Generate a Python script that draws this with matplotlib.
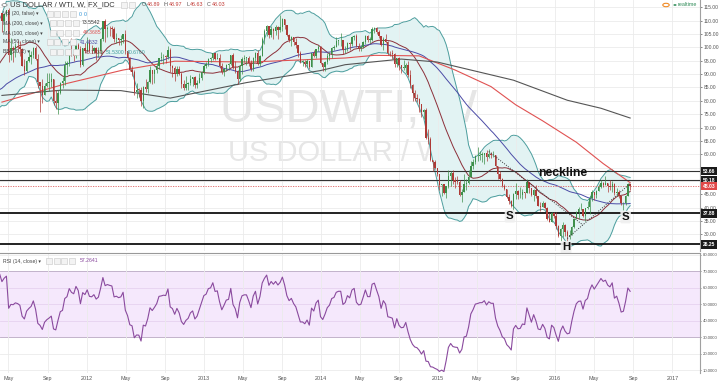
import matplotlib
matplotlib.use('Agg')
import matplotlib.pyplot as plt
import matplotlib.dates as mdates
import matplotlib.transforms as mtransforms
from matplotlib.patches import Rectangle, Circle
import numpy as np
import pandas as pd

plt.rcParams['font.family'] = ['Liberation Sans', 'DejaVu Sans']

# ---- data -------------------------------------------------------------
# weekly closes before the visible window, only used to warm up BB / MA50 / RSI
pre_start = '2010-04-26'
pre_close = [86.2, 75.1, 71.6, 70.0, 74.0, 71.5, 73.8, 77.2, 78.9, 72.1,
             76.1, 76.0, 79.0, 79.0, 80.7, 75.4, 73.5, 75.2, 74.6, 76.5,
             73.7, 76.5, 81.6, 82.7, 81.3, 81.7, 81.4, 86.9, 84.9, 81.5,
             83.8, 89.2, 87.8, 88.0, 91.5, 91.4, 88.0, 91.5, 89.1, 89.3,
             89.0, 85.6, 86.2, 98.0, 104.4, 101.2, 101.1, 105.4, 107.9, 112.8]

# visible weekly candles (week starting Monday), open = previous close
start = '2011-04-11'
close = [
    109.7, 112.3, 113.9,
    97.2, 99.7, 99.5, 100.6, 100.2, 99.3, 93.0, 91.2, 94.9,
    96.2, 97.2, 99.9, 95.7, 86.9, 85.4, 82.3, 85.4, 86.5,
    87.2, 88.0, 79.9, 79.2, 83.0, 86.8, 87.4, 93.3, 94.3,
    99.0, 97.4, 96.8, 101.0, 99.4, 93.5, 99.7, 98.8,
    # 2012
    101.6, 98.7, 98.5, 99.6, 97.8, 98.7, 103.2, 109.8, 106.7,
    107.4, 107.1, 106.9, 103.0, 103.3, 102.8, 103.1, 104.9, 98.5,
    96.1, 91.5, 90.9, 83.2, 84.1, 84.0, 79.8, 85.0,
    84.5, 87.1, 91.4, 90.1, 91.4, 92.9, 96.0, 96.2, 96.5,
    96.4, 99.0, 92.9, 92.2, 89.9, 91.9, 90.1, 86.3, 84.9,
    86.1, 86.7, 88.3, 88.9, 85.9, 86.7, 88.7, 90.8, 93.1,
    # 2013
    93.6, 95.6, 95.9, 97.8, 95.7, 95.9, 93.1, 90.7,
    92.0, 93.5, 93.7, 97.2, 92.7, 91.3, 88.0, 93.0, 95.6,
    96.0, 96.0, 94.2, 92.0, 96.0, 97.9, 93.7, 96.6,
    103.2, 106.0, 108.1, 104.7, 106.9, 106.0, 107.5, 106.4, 107.7,
    110.5, 108.2, 104.7, 102.9, 103.8, 102.0, 100.8, 97.9, 94.6,
    94.6, 93.8, 94.8, 92.7, 97.7, 96.6, 99.3, 100.3, 94.0,
    # 2014
    92.7, 94.4, 96.6, 97.5, 99.9, 100.3, 102.2, 102.6,
    102.6, 98.9, 99.5, 101.7, 101.1, 103.7, 104.3, 100.6, 99.8,
    100.0, 102.0, 104.4, 102.7, 102.7, 106.9, 107.3, 105.7, 104.1,
    100.8, 103.1, 102.1, 97.9, 97.7, 97.4, 93.7, 96.0,
    93.3, 92.3, 92.4, 93.5, 89.7, 85.8, 82.8, 81.0, 80.5,
    78.7, 75.8, 76.5, 66.2, 65.8, 57.8, 57.1, 54.7, 52.7,
    # 2015
    48.4, 48.7, 45.6, 48.2, 51.7, 52.8, 50.3, 49.8,
    49.6, 44.8, 45.7, 48.9, 49.1, 51.6, 55.7, 57.2, 59.2,
    59.4, 59.7, 59.7, 60.3, 59.1, 60.0, 59.6, 59.6, 55.5,
    52.7, 50.9, 48.1, 47.1, 43.9, 42.5, 40.5, 45.2, 46.1,
    44.6, 44.7, 45.7, 45.5, 49.6, 47.3, 44.6, 46.6,
    44.3, 40.7, 40.4, 41.7, 40.0, 35.6, 34.7, 38.1, 37.0,
    # 2016
    33.2, 29.4, 32.2, 33.6, 30.9, 29.4, 29.6, 32.8, 35.9,
    38.5, 39.4, 39.5, 36.8, 39.7, 40.4, 43.7, 45.9,
    44.7, 46.2, 47.8, 49.3, 48.6, 49.1, 48.0, 47.6, 49.0,
    45.4, 46.0, 44.2, 41.6, 41.8, 44.5, 48.89, 48.03]

high = [
    112.8, 112.6, 114.0,
    114.8, 103.4, 100.4, 101.6, 102.6, 102.4, 99.8, 95.7, 95.4,
    99.0, 98.7, 100.2, 100.6, 97.4, 87.0, 88.3, 86.8, 90.5,
    90.5, 90.5, 88.3, 84.0, 84.0, 87.0, 89.0, 94.7, 94.7,
    99.5, 103.4, 98.5, 101.3, 101.5, 100.6, 99.8, 101.8,
    103.7, 103.0, 101.0, 100.3, 100.2, 100.0, 103.5, 109.9, 110.5,
    108.0, 107.9, 108.0, 107.5, 105.5, 103.5, 104.5, 105.0, 106.4,
    98.5, 96.5, 92.9, 91.4, 86.5, 84.8, 85.0, 85.4,
    88.0, 87.5, 92.9, 91.5, 91.9, 94.3, 96.0, 98.3, 97.4,
    97.2, 100.4, 99.9, 93.5, 92.9, 93.0, 93.0, 90.6, 87.6,
    89.1, 87.0, 89.6, 89.0, 89.3, 87.9, 90.5, 91.0, 93.9,
    94.4, 96.0, 96.4, 98.0, 97.8, 98.0, 97.6, 94.0,
    92.4, 93.6, 94.0, 97.3, 97.8, 95.0, 91.5, 93.4, 96.2,
    97.1, 96.3, 96.7, 95.1, 96.4, 98.3, 99.0, 97.0,
    103.9, 107.0, 108.5, 108.1, 108.0, 107.3, 108.5, 107.8, 112.2,
    110.9, 110.5, 108.5, 105.0, 104.4, 104.0, 103.3, 101.0, 98.8,
    95.3, 95.3, 95.5, 95.0, 97.9, 99.0, 99.3, 100.8, 100.4,
    94.1, 94.9, 97.8, 98.3, 100.2, 101.0, 103.7, 102.9,
    105.2, 102.7, 100.5, 101.9, 101.9, 104.2, 104.5, 104.9, 101.5,
    101.0, 102.4, 104.6, 104.5, 104.0, 107.7, 107.7, 107.5, 106.5,
    104.2, 104.0, 105.0, 102.4, 98.8, 98.9, 97.8, 96.1,
    96.2, 93.5, 95.2, 94.0, 94.9, 91.5, 86.2, 84.0, 82.6,
    80.9, 78.9, 77.0, 77.2, 69.5, 66.6, 58.0, 57.8, 55.0,
    52.7, 48.9, 49.0, 48.3, 54.2, 53.6, 54.2, 51.3,
    52.0, 50.3, 47.0, 52.5, 50.8, 54.2, 57.4, 58.4, 59.9,
    62.6, 61.1, 60.8, 60.3, 61.5, 61.8, 60.9, 61.3, 59.7,
    55.5, 53.8, 51.2, 49.0, 47.1, 45.3, 43.0, 45.5, 49.3,
    46.7, 47.7, 47.0, 45.8, 50.9, 49.6, 47.3, 47.0,
    48.4, 44.5, 42.0, 42.6, 42.3, 40.1, 37.9, 38.4, 38.3,
    38.4, 33.5, 32.4, 34.8, 34.0, 31.6, 31.5, 33.2, 36.2,
    38.7, 40.2, 41.9, 39.6, 39.9, 42.4, 44.5, 46.8,
    46.0, 46.8, 48.7, 50.2, 49.8, 51.7, 49.2, 50.5, 49.9,
    49.4, 47.5, 46.5, 44.2, 42.2, 44.7, 49.2, 48.97]

low = [
    105.6, 106.2, 111.6,
    94.6, 95.3, 94.6, 96.5, 98.2, 96.8, 92.9, 89.6, 90.6,
    94.5, 93.8, 95.9, 95.4, 84.9, 75.7, 79.2, 82.0, 85.0,
    83.5, 85.0, 78.5, 77.1, 75.0, 82.5, 84.8, 85.8, 90.2,
    93.1, 96.8, 94.7, 96.0, 97.6, 92.5, 93.1, 98.0,
    98.6, 98.2, 97.8, 98.0, 95.4, 96.3, 97.6, 102.5, 102.0,
    104.0, 104.1, 104.0, 102.0, 101.5, 100.7, 101.0, 101.6, 97.5,
    95.2, 91.2, 89.2, 82.3, 81.2, 81.5, 78.2, 77.3,
    83.1, 83.0, 86.8, 86.1, 86.8, 90.5, 92.0, 94.9, 93.9,
    94.0, 95.8, 90.9, 88.9, 87.3, 89.1, 89.6, 84.9, 84.1,
    84.0, 84.1, 85.9, 85.4, 84.9, 84.7, 86.7, 87.6, 90.2,
    92.4, 93.1, 94.5, 95.2, 95.1, 95.6, 92.1, 90.2,
    89.3, 91.3, 91.5, 93.4, 92.0, 90.4, 86.1, 87.5, 90.1,
    94.5, 93.3, 92.9, 91.3, 91.0, 94.8, 93.3, 93.1,
    96.6, 101.2, 104.3, 103.6, 103.8, 103.2, 104.6, 103.0, 105.7,
    106.0, 106.7, 104.3, 101.9, 100.6, 100.8, 99.8, 96.5, 94.0,
    93.0, 92.5, 92.7, 91.8, 92.5, 96.2, 96.1, 98.7, 93.8,
    91.2, 91.0, 93.9, 95.4, 96.1, 99.0, 100.1, 100.8,
    100.6, 97.4, 97.7, 98.6, 98.9, 100.6, 102.7, 100.1, 98.6,
    98.6, 99.7, 101.4, 102.0, 101.8, 102.3, 105.2, 105.1, 103.6,
    100.5, 98.9, 101.5, 97.1, 96.6, 95.6, 92.5, 92.6,
    91.5, 90.4, 91.5, 90.5, 88.8, 84.6, 79.8, 80.0, 79.4,
    75.8, 73.9, 73.3, 65.7, 63.7, 57.3, 53.6, 54.5, 52.0,
    46.8, 44.2, 45.2, 43.6, 47.3, 48.0, 48.8, 47.4,
    48.8, 44.4, 42.0, 45.7, 46.6, 48.8, 51.5, 54.6, 56.2,
    57.6, 58.0, 57.0, 56.5, 57.3, 58.6, 58.6, 59.0, 55.1,
    50.6, 50.1, 47.7, 46.7, 43.5, 41.4, 40.2, 37.88, 43.2,
    43.3, 43.8, 43.4, 43.6, 45.5, 45.6, 44.2, 42.6,
    43.8, 40.5, 38.9, 40.3, 39.6, 35.4, 34.5, 34.5, 36.2,
    32.1, 29.1, 27.6, 29.2, 29.3, 26.25, 28.4, 29.6, 32.4,
    35.6, 35.9, 39.1, 36.4, 35.2, 39.6, 37.6, 42.6,
    43.0, 43.5, 46.2, 47.5, 47.8, 48.5, 45.8, 46.7, 45.8,
    44.9, 44.3, 43.8, 41.0, 39.2, 41.0, 44.4, 46.63]

# MA(100) / MA(200)
ma100_dates = ['2011-04-11', '2011-10-31', '2012-04-23', '2012-10-01', '2013-05-27',
               '2014-03-17', '2014-06-16', '2014-11-03', '2015-02-23', '2015-06-15',
               '2015-08-31', '2015-11-23', '2016-03-07', '2016-05-30', '2016-08-22']
ma100_vals = [79.5, 86.5, 91.5, 94.8, 94.5, 96.0, 97.0, 96.8, 91.5, 85.3,
              78.5, 72.5, 64.5, 56.5, 49.37]
ma200_dates = ['2011-04-11', '2011-10-17', '2012-04-16', '2012-09-17', '2013-05-13',
               '2013-12-30', '2014-03-17', '2014-09-08', '2014-12-29', '2015-08-24',
               '2016-02-08', '2016-05-23', '2016-08-22']
ma200_vals = [82.0, 84.0, 83.8, 81.0, 86.8, 91.3, 93.5, 95.6, 94.5, 87.7,
              80.2, 77.2, 73.55]

# drawn levels and current price
levels = [53.66, 50.18, 37.88, 26.25]
level_width = [0.8, 0.8, 1.3, 1.3]
last_price = 48.03

# dotted trend lines drawn on the chart
trend_dates = [['2015-06-08', '2016-03-28'], ['2016-02-08', '2016-08-22']]
trend_vals = [[61.0, 33.5], [28.5, 49.0]]

# pattern labels
marks = [('S', '2015-08-13', 36.8), ('H', '2016-02-04', 25.2), ('S', '2016-08-08', 36.5)]
neck = ('neckline', '2016-01-26', 53.0)

tick_dates = ['2011-05-01', '2011-09-01', '2012-01-01', '2012-05-01', '2012-09-01',
              '2013-01-01', '2013-05-01', '2013-09-01', '2014-01-01', '2014-05-01',
              '2014-09-01', '2015-01-01', '2015-05-01', '2015-09-01', '2016-01-01',
              '2016-05-01', '2016-09-01', '2017-01-01']
tick_labels = ['May', 'Sep', '2012', 'May', 'Sep', '2013', 'May', 'Sep', '2014', 'May',
               'Sep', '2015', 'May', 'Sep', '2016', 'May', 'Sep', '2017']

# ---- derived series ---------------------------------------------------
all_dates = pd.date_range(pre_start, periods=len(pre_close) + len(close), freq='W-MON')
s = pd.Series(pre_close + close, index=all_dates)
xa = mdates.date2num(all_dates.to_pydatetime())

d = all_dates[len(pre_close):]
xd = mdates.date2num(d.to_pydatetime())
c = np.array(close)
o = np.array([pre_close[-1]] + close[:-1])
h = np.array(high)
l = np.array(low)

mid = s.rolling(20).mean()
sd = s.rolling(20).std(ddof=0)
bb_up = mid + 2 * sd
bb_lo = mid - 2 * sd
ma50 = s.rolling(50).mean()

delta = s.diff()
gain = delta.clip(lower=0).ewm(alpha=1 / 14, adjust=False).mean()
loss = (-delta.clip(upper=0)).ewm(alpha=1 / 14, adjust=False).mean()
rsi = 100 - 100 / (1 + gain / loss)


def dn(v):
    return mdates.date2num(pd.to_datetime(v).to_pydatetime())


# ---- figure -----------------------------------------------------------
W, H = 720, 385
fig = plt.figure(figsize=(7.2, 3.85), dpi=100)
fig.patch.set_facecolor('white')


def fx(px):
    return px / W


def fy(py):
    return 1 - py / H


ax = fig.add_axes([0, fy(251), fx(700), 251 / H])
ax2 = fig.add_axes([0, fy(373), fx(700), 120 / H])

UP = '#3d8f4a'
DOWN = '#ae3a36'
GRID = '#ebebeb'
xlim = (dn('2011-04-05'), dn('2017-03-28'))

for a in (ax, ax2):
    a.set_xlim(*xlim)
    a.set_xticks(dn(tick_dates))
    a.grid(True, axis='x', color=GRID, lw=0.6, zorder=0)
    a.yaxis.tick_right()
    a.tick_params(axis='y', labelsize=3.6, colors='#555', length=1.5, width=0.5, pad=1)
    for sp in ('left', 'top', 'bottom'):
        a.spines[sp].set_visible(False)
    a.spines['right'].set_color('#a0a0a0')
    a.spines['right'].set_linewidth(0.8)

ax.tick_params(axis='x', length=0, labelbottom=False)
ax2.set_xticklabels(tick_labels)
ax2.tick_params(axis='x', labelsize=3.9, colors='#555', length=0, pad=2.5)
ax2.tick_params(axis='y', labelsize=3.1, length=1, pad=0.8)
ax2.spines['top'].set_visible(True)
ax2.spines['top'].set_color('#999')
ax2.spines['top'].set_linewidth(0.8)

# price panel
ax.set_ylim(23.8, 117.7)
yt = [v for v in range(30, 120, 5) if v not in (50, 55)]
ax.set_yticks(yt)
ax.set_yticklabels(['%.2f' % v for v in yt])
for v in range(30, 120, 5):
    ax.axhline(v, color=GRID, lw=0.6, zorder=0)

ax.text(0.4986, 0.56, 'USDWTI, W', transform=ax.transAxes, ha='center', va='center',
        fontsize=34, color='#e6e6e6', zorder=0.5)
ax.text(0.4986, 0.39, 'US DOLLAR / WTI', transform=ax.transAxes, ha='center', va='center',
        fontsize=21, color='#e6e6e6', zorder=0.5)

ax.fill_between(xa, bb_lo.values, bb_up.values, color='#e2f3f3', lw=0, zorder=1)
ax.plot(xa, bb_up.values, color='#4d9e9e', lw=0.7, zorder=2)
ax.plot(xa, bb_lo.values, color='#4d9e9e', lw=0.7, zorder=2)
ax.plot(xa, mid.values, color='#8c2f39', lw=0.7, zorder=3)
ax.plot(xa, ma50.values, color='#4b4ba6', lw=0.7, zorder=3)
ax.plot(dn(ma100_dates), ma100_vals, color='#e05252', lw=0.8, zorder=3)
ax.plot(dn(ma200_dates), ma200_vals, color='#555555', lw=0.8, zorder=3)

for lv, lw in zip(levels, level_width):
    ax.axhline(lv, color='#333333' if lw < 1 else '#111111', lw=lw, zorder=3)
ax.axhline(last_price, color='#e06060', lw=0.6, ls=(0, (1.5, 1.5)), zorder=3)

for td, tv in zip(trend_dates, trend_vals):
    ax.plot(dn(td), tv, color='#333', lw=0.7, ls=(0, (1, 1.5)), zorder=5)

colors = np.where(c >= o, UP, DOWN)
ax.vlines(xd, l, h, colors=colors, lw=0.5, zorder=4)
ax.bar(xd, np.maximum(np.abs(c - o), 0.25), bottom=np.minimum(o, c), width=4.2,
       color=colors, lw=0, zorder=4)

for txt, dt, val in marks:
    ax.text(dn(dt), val, txt, ha='center', va='center', fontsize=8.2, fontweight='bold',
            color='#111', zorder=6,
            bbox=dict(boxstyle='round,pad=0.12', fc='#f0f0f0', ec='none', alpha=0.9))
ax.text(dn(neck[1]), neck[2], neck[0], ha='center', va='center', fontsize=8.7,
        fontweight='bold', color='#111', zorder=6)

trans = mtransforms.blended_transform_factory(ax.transAxes, ax.transData)
for lv in levels:
    ax.text(1.004, lv, '%.2f' % lv, transform=trans, ha='left', va='center', fontsize=3.6,
            color='white', fontweight='bold', clip_on=False, zorder=7,
            bbox=dict(boxstyle='square,pad=0.35', fc='#1a1a1a', ec='none'))
ax.text(1.004, last_price, '%.2f' % last_price, transform=trans, ha='left', va='center',
        fontsize=3.6, color='white', fontweight='bold', clip_on=False, zorder=7,
        bbox=dict(boxstyle='square,pad=0.35', fc='#e04848', ec='none'))

# RSI panel
ax2.set_ylim(8.3, 81)
rt = list(range(10, 90, 10))
ax2.set_yticks(rt)
ax2.set_yticklabels(['%.4f' % v for v in rt])
ax2.axhspan(30, 70, color='#f5e8fc', lw=0, zorder=0)
for v in rt:
    inside = 30 < v < 70
    ax2.axhline(v, color='#e6d2f0' if inside else GRID, lw=0.6, zorder=0.5)
ax2.axhline(30, color='#bcaac6', lw=0.6, zorder=0.6)
ax2.axhline(70, color='#bcaac6', lw=0.6, zorder=0.6)
ax2.plot(xa, rsi.values, color='#8a4a9e', lw=0.8, zorder=3)

# ---- header / legend texts -------------------------------------------
def icons(x0, y, n):
    for k in range(n):
        fig.patches.append(Rectangle((fx(x0 + k * 7.5), fy(y + 3)), 6 / W, 6 / H,
                                     transform=fig.transFigure, fc='#f3f3f3',
                                     ec='#c6c6c6', lw=0.4, zorder=10))


fig.patches.append(Circle((fx(4.5), fy(5)), 2.6 / W, transform=fig.transFigure,
                          fc='white', ec='#777', lw=0.5, zorder=10))
fig.text(fx(10), fy(5), 'US DOLLAR / WTI, W, FX_IDC', fontsize=5.4, color='#333',
         va='center', zorder=11)
icons(121, 5, 2)
ohlc = [('O', 142), ('48.89', 146.5), ('H', 164), ('48.97', 168.5),
        ('L', 186), ('46.63', 189.5), ('C', 207), ('48.03', 211.5)]
for i, (t, xp) in enumerate(ohlc):
    fig.text(fx(xp), fy(5), t, fontsize=3.9, va='center',
             color='#555' if i % 2 == 0 else '#c23b36', zorder=11)

rows = [
    (14, 'Vol (20, false) \u25be', 47, [('0', '#2a8fd4', 79), ('0', '#2a8fd4', 84)]),
    (23, 'MA (200, close) \u25be', 50, [('73.5542', '#333333', 82)]),
    (33, 'MA (100, close) \u25be', 50, [('49.3685', '#e05252', 83)]),
    (42, 'MA (50, close) \u25be', 47, [('41.4632', '#4b4ba6', 80)]),
    (52, 'BB (20, 2) \u25be', 50, [('46.1030', '#8c2f39', 85), ('51.5300', '#3d9c9c', 106),
                                   ('40.6760', '#3d9c9c', 127)]),
]
for y, label, ix, vals in rows:
    fig.text(fx(3), fy(y), label, fontsize=3.7, color='#444', va='center', zorder=11)
    icons(ix, y, 4)
    for t, col, xp in vals:
        fig.text(fx(xp), fy(y), t, fontsize=3.7, color=col, va='center', zorder=11)

fig.text(fx(3), fy(261), 'RSI (14, close) \u25be', fontsize=3.7, color='#444',
         va='center', zorder=11)
icons(46, 261, 4)
fig.text(fx(80), fy(261), '57.2641', fontsize=3.7, color='#8a4a9e', va='center', zorder=11)

fig.patches.append(Circle((fx(666), fy(5)), 3.2 / W, transform=fig.transFigure,
                          fc='white', ec='#f08a24', lw=0.8, zorder=10))
fig.patches.append(Circle((fx(675), fy(5)), 1.6 / W, transform=fig.transFigure,
                          fc='#2e8b57', ec='none', zorder=10))
fig.text(fx(678), fy(5), 'realtime', fontsize=3.9, color='#2e8b57', va='center', zorder=11)

fig.savefig('out.png', dpi=100)
